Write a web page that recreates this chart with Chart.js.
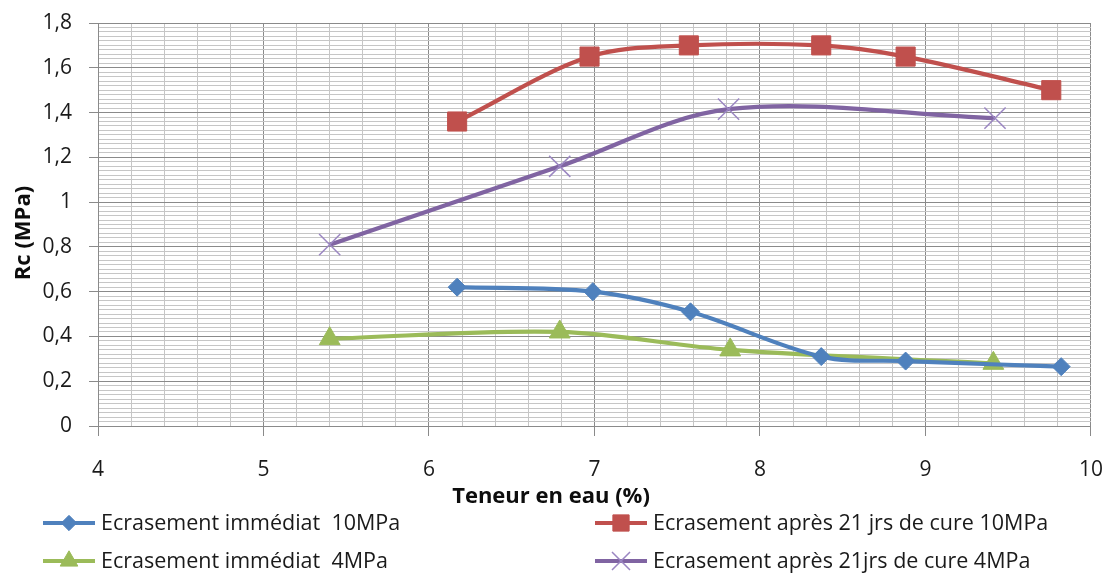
<!DOCTYPE html>
<html>
<head>
<meta charset="utf-8">
<script src="https://cdn.jsdelivr.net/npm/chart.js@4/dist/chart.umd.min.js"></script>
<style>
  html, body { margin: 0; padding: 0; background: #ffffff; }
  #wrap { width: 1109px; height: 573px; }
</style>
</head>
<body>
<div id="wrap"><canvas id="chart" width="1109" height="573"></canvas></div>
<script>
// Water content (%) and compressive strength Rc (MPa) for each test series
const waterImmediate10 = [6.17, 6.99, 7.58, 8.37, 8.88, 9.82];
const rcImmediate10    = [0.62, 0.60, 0.51, 0.31, 0.29, 0.265];

const waterCured10 = [6.17, 6.97, 7.57, 8.37, 8.88, 9.76];
const rcCured10    = [1.36, 1.65, 1.70, 1.70, 1.65, 1.50];

const waterImmediate4 = [5.40, 6.79, 7.82, 9.41];
const rcImmediate4    = [0.39, 0.42, 0.34, 0.28];

const waterCured4 = [5.40, 6.79, 7.81, 9.42];
const rcCured4    = [0.81, 1.16, 1.415, 1.375];

const seriesNames = [
  'Ecrasement immédiat  10MPa',
  'Ecrasement après 21 jrs de cure 10MPa',
  'Ecrasement immédiat  4MPa',
  'Ecrasement après 21jrs de cure 4MPa'
];

const xTickLabels = ['4', '5', '6', '7', '8', '9', '10'];
const yTickLabels = ['0', '0,2', '0,4', '0,6', '0,8', '1', '1,2', '1,4', '1,6', '1,8'];

const xTitle = 'Teneur en eau (%)';
const yTitle = 'Rc (MPa)';

function toPoints(xs, ys) {
  return xs.map((x, i) => ({ x: x, y: ys[i] }));
}

const FONT = "'Open Sans', 'Noto Sans', sans-serif";
const MAJOR = '#8a8a8a';
const MINOR = '#c6c6c6';
const CLEAR = 'rgba(0,0,0,0)';

// x grid: major line each unit, minor every 0.2
function xMajorIndex(v) {
  const r = Math.round(v);
  return Math.abs(v - r) < 1e-6 ? r - 4 : -1;
}
// y grid: major line each 0.2, minor every 0.02
function yMajorIndex(v) {
  const r = Math.round(v * 5);
  return Math.abs(v * 5 - r) < 1e-6 ? r : -1;
}

// Axis titles, placed under / beside the plot
const axisTitles = {
  id: 'axisTitles',
  afterDraw(chart, args, opts) {
    const ctx = chart.ctx;
    ctx.save();
    ctx.fillStyle = opts.color;
    ctx.font = opts.font;
    ctx.textAlign = 'center';
    ctx.textBaseline = 'middle';
    ctx.fillText(opts.x.text, opts.x.cx, opts.x.cy);
    ctx.translate(opts.y.cx, opts.y.cy);
    ctx.rotate(-Math.PI / 2);
    ctx.fillText(opts.y.text, 0, 0);
    ctx.restore();
  }
};

// Two-column legend block below the axis title
const legendBlock = {
  id: 'legendBlock',
  afterDraw(chart, args, opts) {
    const ctx = chart.ctx;
    ctx.save();
    chart.data.datasets.forEach((ds, i) => {
      const slot = opts.slots[i];
      const x0 = slot.x, y = slot.y;
      ctx.strokeStyle = ds.borderColor;
      ctx.lineWidth = ds.borderWidth;
      ctx.beginPath();
      ctx.moveTo(x0, y);
      ctx.lineTo(x0 + opts.lineLength, y);
      ctx.stroke();
      ctx.fillStyle = ds.pointBackgroundColor;
      ctx.strokeStyle = ds.pointBorderColor;
      ctx.lineWidth = ds.pointBorderWidth;
      Chart.helpers.drawPoint(ctx, {
        pointStyle: ds.pointStyle,
        radius: ds.pointRadius * opts.markerScale,
        rotation: 0,
        borderWidth: ds.pointBorderWidth
      }, x0 + opts.lineLength / 2, y);
      ctx.fillStyle = opts.color;
      ctx.font = opts.font;
      ctx.textBaseline = 'middle';
      ctx.textAlign = 'left';
      ctx.fillText(ds.label, x0 + opts.lineLength + opts.gap, y + 1);
    });
    ctx.restore();
  }
};

new Chart(document.getElementById('chart'), {
  type: 'line',
  data: {
    datasets: [
      {
        label: seriesNames[0],
        data: toPoints(waterImmediate10, rcImmediate10),
        borderColor: '#4f81bd',
        borderWidth: 4.2,
        pointStyle: 'rectRot',
        pointRadius: 9,
        pointBackgroundColor: '#4f81bd',
        pointBorderColor: '#4f81bd',
        pointBorderWidth: 1
      },
      {
        label: seriesNames[1],
        data: toPoints(waterCured10, rcCured10),
        borderColor: '#c0504d',
        borderWidth: 4.2,
        pointStyle: 'rect',
        pointRadius: 13.5,
        pointBackgroundColor: '#c0504d',
        pointBorderColor: '#c0504d',
        pointBorderWidth: 1
      },
      {
        label: seriesNames[2],
        data: toPoints(waterImmediate4, rcImmediate4),
        borderColor: '#9bbb59',
        borderWidth: 4.2,
        pointStyle: 'triangle',
        pointRadius: 12,
        pointBackgroundColor: '#9bbb59',
        pointBorderColor: '#9bbb59',
        pointBorderWidth: 1
      },
      {
        label: seriesNames[3],
        data: toPoints(waterCured4, rcCured4),
        borderColor: '#8064a2',
        borderWidth: 4.2,
        pointStyle: 'crossRot',
        pointRadius: 15,
        pointBackgroundColor: CLEAR,
        pointBorderColor: '#9b86c2',
        pointBorderWidth: 1.5
      }
    ]
  },
  options: {
    responsive: false,
    animation: false,
    devicePixelRatio: 1,
    elements: { line: { tension: 0.33 } },
    layout: { padding: { top: 23, right: 17, bottom: 67, left: 0 } },
    plugins: {
      legend: { display: false },
      tooltip: { enabled: false },
      axisTitles: {
        font: "bold 22px 'Open Sans', 'Noto Sans', sans-serif",
        color: '#0d0d0d',
        x: { text: xTitle, cx: 551, cy: 497 },
        y: { text: yTitle, cx: 24, cy: 233 }
      },
      legendBlock: {
        slots: [ { x: 43, y: 523 }, { x: 595, y: 523 }, { x: 43, y: 561 }, { x: 595, y: 561 } ],
        lineLength: 52,
        gap: 6,
        markerScale: 0.85,
        font: "21.5px 'Open Sans', 'Noto Sans', sans-serif",
        color: '#1a1a1a'
      }
    },
    scales: {
      x: {
        type: 'linear',
        min: 4,
        max: 10,
        afterFit(scale) { scale.height = 80; },
        ticks: {
          stepSize: 0.2,
          autoSkip: false,
          maxRotation: 0,
          padding: 6,
          color: '#1a1a1a',
          font: { family: FONT, size: 21 },
          callback: (v) => { const i = xMajorIndex(v); return i >= 0 ? xTickLabels[i] : ''; }
        },
        grid: {
          color: (c) => xMajorIndex(c.tick.value) >= 0 ? MAJOR : MINOR,
          tickColor: (c) => xMajorIndex(c.tick.value) >= 0 ? MAJOR : CLEAR,
          tickLength: 25,
          tickBorderDash: [9, 40],
          lineWidth: 1
        },
        border: { color: MAJOR, width: 1 },
        title: { display: false }
      },
      y: {
        type: 'linear',
        min: 0,
        max: 1.8,
        afterFit(scale) { scale.width = 98; },
        ticks: {
          stepSize: 0.02,
          autoSkip: false,
          padding: 10,
          color: '#1a1a1a',
          font: { family: FONT, size: 21 },
          callback: (v) => { const i = yMajorIndex(v); return i >= 0 ? yTickLabels[i] : ''; }
        },
        grid: {
          color: (c) => yMajorIndex(c.tick.value) >= 0 ? MAJOR : MINOR,
          tickColor: (c) => yMajorIndex(c.tick.value) >= 0 ? MAJOR : CLEAR,
          tickLength: 16,
          tickBorderDash: [9, 7],
          tickBorderDashOffset: 9,
          lineWidth: 1
        },
        border: { color: MAJOR, width: 1 },
        title: { display: false }
      }
    }
  },
  plugins: [axisTitles, legendBlock]
});
</script>
</body>
</html>
